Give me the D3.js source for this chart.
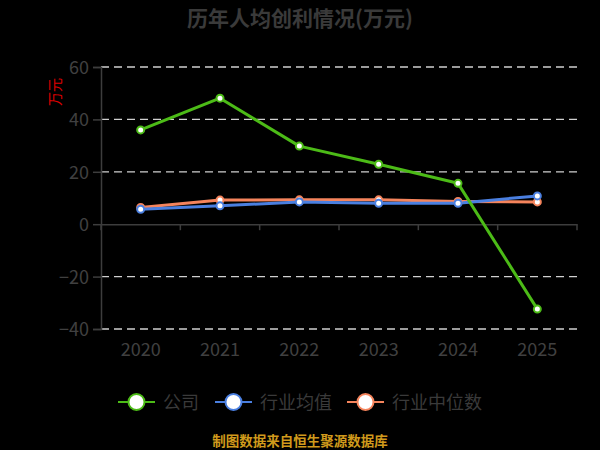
<!DOCTYPE html>
<html><head><meta charset="utf-8">
<script src="https://cdn.jsdelivr.net/npm/d3@7/dist/d3.min.js"></script>
<style>body{margin:0;background:#000;}svg{display:block;}</style>
</head><body><svg id="c" width="600" height="450"></svg>
<script>
const years = ["2020","2021","2022","2023","2024","2025"];
const company = [36.0, 48.1, 29.8, 22.9, 15.6, -32.4];
const industryAvg = [5.7, 7.0, 8.5, 8.0, 8.0, 10.8];
const industryMedian = [6.4, 9.2, 9.3, 9.3, 8.7, 8.5];
const yTicks = [-40, -20, 0, 20, 40, 60];
const seriesNames = ["公司", "行业均值", "行业中位数"];
const seriesColors = ["#4cbb17", "#4a7fe0", "#f5845c"];

(function(){
const svg = d3.select("#c");
const font = "'Noto Sans CJK SC','Noto Sans',sans-serif";
const pL = 101, pR = 577, pT = 67, pB = 329;
const x = d3.scaleBand().domain(years).range([pL, pR]);
const y = d3.scaleLinear().domain([-40, 60]).range([pB, pT]);
const axisCol = "#3d3d3d";

svg.append("rect").attr("width",600).attr("height",450).attr("fill","#000");

svg.append("text").attr("x",300).attr("y",26).attr("text-anchor","middle")
  .attr("font-family",font).attr("font-weight","bold").attr("font-size",21)
  .attr("fill","#3a3a3a").text("历年人均创利情况(万元)");

// grid
svg.append("g").selectAll("line").data(yTicks.filter(d=>d!==0)).join("line")
  .attr("x1",pL).attr("x2",pR).attr("y1",d=>y(d)).attr("y2",d=>y(d))
  .attr("stroke","#d0d0d0").attr("stroke-width",1.3).attr("stroke-dasharray","8,5");

// y axis
const ya = svg.append("g").attr("transform",`translate(${pL},0)`)
  .call(d3.axisLeft(y).tickValues(yTicks).tickSize(8).tickPadding(4));
ya.select(".domain").attr("stroke",axisCol).attr("stroke-width",1.5);
ya.selectAll(".tick line").attr("stroke",axisCol).attr("stroke-width",1.5);
ya.selectAll("text").attr("font-family",font).attr("font-size",18).attr("fill","#404040")
  .attr("dy","0.36em");

// x axis at 0
const xa = svg.append("g").attr("transform",`translate(0,${y(0)})`)
  .call(d3.axisBottom(x).tickSize(0).tickFormat(""));
xa.select(".domain").attr("stroke",axisCol).attr("stroke-width",1.5);
xa.selectAll(".tick").remove();
svg.append("g").selectAll("line").data(d3.range(years.length+1)).join("line")
  .attr("x1",i=>pL + i*x.step()).attr("x2",i=>pL + i*x.step())
  .attr("y1",y(0)).attr("y2",y(0)+6).attr("stroke",axisCol).attr("stroke-width",1.5);
svg.append("g").selectAll("text").data(years).join("text")
  .attr("x",d=>x(d)+x.bandwidth()/2).attr("y",356).attr("text-anchor","middle")
  .attr("font-family",font).attr("font-size",18).attr("fill","#404040").text(d=>d);

// y axis name
svg.append("text").attr("transform","translate(60,92) rotate(-90)").attr("text-anchor","middle")
  .attr("font-family",font).attr("font-size",14).attr("fill","#e00000").text("万元");

const data = [company, industryAvg, industryMedian];
const line = d3.line().x((d,i)=>x(years[i])+x.bandwidth()/2).y(d=>y(d));
[2,1,0].forEach(k=>{
  svg.append("path").attr("d",line(data[k])).attr("fill","none")
    .attr("stroke",seriesColors[k]).attr("stroke-width",3).attr("stroke-linejoin","round");
});
[2,1,0].forEach(k=>{
  svg.append("g").selectAll("circle").data(data[k]).join("circle")
    .attr("cx",(d,i)=>x(years[i])+x.bandwidth()/2).attr("cy",d=>y(d)).attr("r",3.5)
    .attr("fill","#fff").attr("stroke",seriesColors[k]).attr("stroke-width",2);
});

// legend
const positions = [118, 215, 347];
seriesNames.forEach((n,k)=>{
  const g = svg.append("g").attr("transform",`translate(${positions[k]},402)`);
  g.append("line").attr("x1",0).attr("x2",37).attr("y1",0).attr("y2",0)
    .attr("stroke",seriesColors[k]).attr("stroke-width",2);
  g.append("circle").attr("cx",18.5).attr("cy",0).attr("r",8)
    .attr("fill","#fff").attr("stroke",seriesColors[k]).attr("stroke-width",2);
  g.append("text").attr("x",45).attr("y",7).attr("font-family",font).attr("font-size",18)
    .attr("fill","#3a3a3a").text(n);
});

svg.append("text").attr("x",300).attr("y",446).attr("text-anchor","middle")
  .attr("font-family",font).attr("font-weight","bold").attr("font-size",13.5)
  .attr("fill","#d09a1c").text("制图数据来自恒生聚源数据库");
})();
</script></body></html>
